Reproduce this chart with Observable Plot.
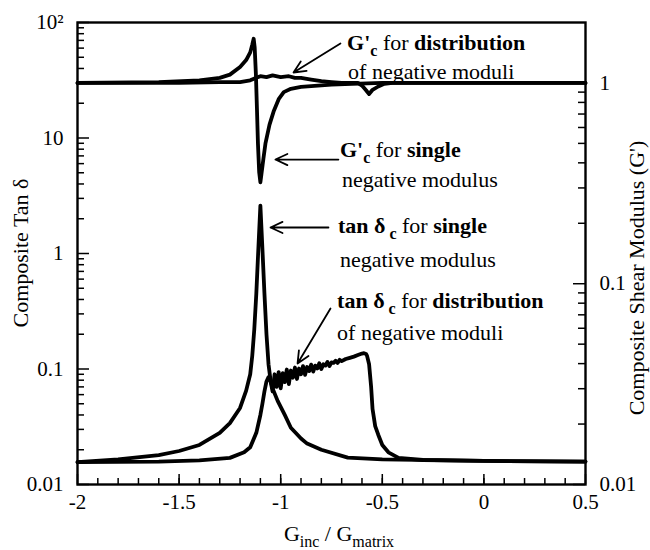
<!DOCTYPE html>
<html><head><meta charset="utf-8">
<script src="https://cdn.jsdelivr.net/npm/d3@7"></script>
<script src="https://cdn.jsdelivr.net/npm/@observablehq/plot@0.6"></script>
<style>body{margin:0;background:#fff}</style>
</head><body><div id="chart"></div>
<script>
// ---------- data ----------
// tan δc, single negative modulus (left axis)
const tanSingleX = [-2, -1.8, -1.6, -1.5, -1.4, -1.3, -1.25, -1.2, -1.17, -1.15, -1.14, -1.13, -1.12, -1.11, -1.10, -1.09, -1.08, -1.07, -1.06, -1.05, -1.04, -1.015, -0.98, -0.95, -0.9, -0.87, -0.8, -0.67, -0.5, 0, 0.5];
const tanSingleY = [0.0156, 0.0165, 0.018, 0.0195, 0.022, 0.028, 0.034, 0.046, 0.065, 0.09, 0.13, 0.22, 0.45, 1.1, 2.6, 1.1, 0.45, 0.2, 0.11, 0.08, 0.068, 0.053, 0.04, 0.031, 0.025, 0.0226, 0.02, 0.0171, 0.0165, 0.016, 0.0158];
// tan δc, distribution of negative moduli (left axis)
const tanDistX = [-2, -1.6, -1.4, -1.25, -1.18, -1.15, -1.12, -1.10, -1.09, -1.08, -1.07, -1.06,
  -1.05, -1.04, -1.03, -1.02, -1.01, -1.00, -0.99, -0.98, -0.97, -0.96, -0.95, -0.94, -0.93, -0.92, -0.91, -0.90,
  -0.89, -0.88, -0.87, -0.86, -0.85, -0.84, -0.83, -0.82, -0.81, -0.80, -0.79, -0.78, -0.77, -0.76, -0.75, -0.74,
  -0.73, -0.72, -0.71, -0.70, -0.68, -0.66, -0.64, -0.62, -0.60, -0.59, -0.58, -0.575, -0.565, -0.555, -0.548,
  -0.535, -0.52, -0.50, -0.47, -0.42, -0.3, 0, 0.5];
const tanDistY = [0.0156, 0.0158, 0.0162, 0.017, 0.019, 0.021, 0.028, 0.04, 0.05, 0.064, 0.078, 0.085,
  0.078, 0.064, 0.09, 0.07, 0.094, 0.068, 0.092, 0.077, 0.099, 0.074, 0.097, 0.084, 0.103, 0.082, 0.101, 0.09,
  0.106, 0.089, 0.104, 0.096, 0.109, 0.095, 0.107, 0.101, 0.112, 0.1, 0.11, 0.107, 0.115, 0.106, 0.114, 0.113,
  0.118, 0.113, 0.12, 0.117, 0.122, 0.125, 0.128, 0.132, 0.136, 0.137, 0.135, 0.13, 0.11, 0.07, 0.045,
  0.032, 0.027, 0.022, 0.019, 0.017, 0.0163, 0.016, 0.0158];
// G'c, single negative modulus (right axis)
const gSingleX = [-2, -1.6, -1.4, -1.3, -1.25, -1.2, -1.17, -1.15, -1.14, -1.133, -1.128, -1.122, -1.117, -1.112, -1.106, -1.10, -1.095, -1.085, -1.075, -1.055, -1.035, -1.01, -0.985, -0.95, -0.9, -0.85, -0.75, -0.65, -0.5, 0, 0.5];
const gSingleY = [1.0, 1.01, 1.03, 1.06, 1.1, 1.2, 1.3, 1.42, 1.55, 1.66, 1.5, 1.1, 0.75, 0.5, 0.36, 0.32, 0.35, 0.42, 0.5, 0.62, 0.72, 0.83, 0.9, 0.935, 0.955, 0.965, 0.98, 0.99, 1.0, 1.0, 1.0];
// G'c, distribution of negative moduli (right axis)
const gDistX = [-2, -1.5, -1.3, -1.2, -1.15, -1.12, -1.1, -1.07, -1.04, -1.0, -0.96, -0.93, -0.9, -0.85, -0.8, -0.75, -0.7, -0.62, -0.6, -0.58, -0.565, -0.55, -0.52, -0.49, -0.45, 0, 0.5];
const gDistY = [1.0, 1.0, 1.01, 1.01, 1.03, 1.06, 1.08, 1.07, 1.09, 1.07, 1.08, 1.06, 1.06, 1.04, 1.02, 1.01, 1.0, 1.0, 0.97, 0.92, 0.88, 0.92, 0.96, 0.99, 1.0, 1.0, 1.0];

// ticks & labels
const xMajor = [-2, -1.5, -1, -0.5, 0, 0.5];
const xLabels = ["-2", "-1.5", "-1", "-0.5", "0", "0.5"];
const xMinor = d3.range(-19, 5).map(k => k / 10);
const leftMajor = [0.01, 0.1, 1, 10, 100];
const leftLabels = ["0.01", "0.1", "1", "10", "10\u00B2"];
const leftMinor = [0.01, 0.1, 1, 10].flatMap(b => d3.range(2, 10).map(m => m * b));
const rightMajor = [0.01, 0.1, 1];
const rightLabels = ["0.01", "0.1", "1"];
const rightMinor = [0.01, 0.1].flatMap(b => d3.range(2, 10).map(m => m * b));

// ---------- layout ----------
const W = 650, H = 550, mL = 77, mR = 65, mT = 22, mB = 66;
const frameW = W - mL - mR, frameH = H - mT - mB;
const RIGHT_MAX = 2;
const LEFT_DEC = 4, RIGHT_DEC = Math.log10(RIGHT_MAX) + 2;
const toLeft = g => 10 ** ((Math.log10(g) + 2) * LEFT_DEC / RIGHT_DEC - 2);
const FONT = "'Liberation Serif', 'Times New Roman', Times, 'DejaVu Serif', serif";

const series = [
  {name: "gDist", x: gDistX, y: gDistY, right: true},
  {name: "gSingle", x: gSingleX, y: gSingleY, right: true},
  {name: "tanDist", x: tanDistX, y: tanDistY, right: false},
  {name: "tanSingle", x: tanSingleX, y: tanSingleY, right: false}
];
const rows = series.flatMap(s => s.x.map((x, i) => ({series: s.name, x, y: s.right ? toLeft(s.y[i]) : s.y[i]})));

const leftTickRows = leftMajor.map((v, i) => ({y: v, label: leftLabels[i]}));
const rightTickRows = rightMajor.map((v, i) => ({y: toLeft(v), label: rightLabels[i]}));
const xTickRows = xMajor.map((v, i) => ({x: v, label: xLabels[i]}));

// annotation arrows (data coords)
const arrows = [
  {x1: -0.706, y1: 65.8, x2: -0.937, y2: 36.9},
  {x1: -0.716, y1: 6.51, x2: -1.026, y2: 6.51},
  {x1: -0.765, y1: 1.68, x2: -1.050, y2: 1.68},
  {x1: -0.755, y1: 0.334, x2: -0.917, y2: 0.1117}
];

const plot = Plot.plot({
  width: W, height: H, marginLeft: mL, marginRight: mR, marginTop: mT, marginBottom: mB,
  x: {domain: [-2, 0.5], axis: null},
  y: {type: "log", domain: [0.01, 100], axis: null},
  style: {fontFamily: FONT, fontSize: "21px", color: "black", background: "white"},
  marks: [
    Plot.line(rows, {x: "x", y: "y", z: "series", stroke: "black", strokeWidth: 3.8, strokeLinejoin: "round", strokeLinecap: "round"}),
    Plot.tickX(xMinor, {x: d => d, insetTop: frameH - 6, strokeWidth: 1.5}),
    Plot.tickX(xMajor, {x: d => d, insetTop: frameH - 10, strokeWidth: 1.5}),
    Plot.tickY(leftMinor, {y: d => d, insetRight: frameW - 7, strokeWidth: 1.5}),
    Plot.tickY(leftMajor, {y: d => d, insetRight: frameW - 12, strokeWidth: 1.5}),
    Plot.tickY(rightMinor.map(toLeft), {y: d => d, insetLeft: frameW - 7, strokeWidth: 1.5}),
    Plot.tickY(rightTickRows, {y: "y", insetLeft: frameW - 12, strokeWidth: 1.5}),
    Plot.text(xTickRows, {x: "x", text: "label", frameAnchor: "bottom", lineAnchor: "top", dy: 10, fontSize: 21}),
    Plot.text(leftTickRows, {y: "y", text: "label", frameAnchor: "left", textAnchor: "end", dx: -14, fontSize: 21}),
    Plot.text(rightTickRows, {y: "y", text: "label", frameAnchor: "right", textAnchor: "start", dx: 14, fontSize: 21}),
    Plot.frame({strokeWidth: 2.4}),
    Plot.arrow(arrows, {x1: "x1", y1: "y1", x2: "x2", y2: "y2", strokeWidth: 1.8, headLength: 11, headAngle: 50})
  ]
});
document.getElementById("chart").appendChild(plot);

// ---------- rich text (annotations, titles) ----------
const svg = d3.select(plot);
const sx = plot.scale("x"), sy = plot.scale("y");
const FS = 22, SUB = 16;
function rich(g, x, y, spans, attrs = {}) {
  const t = g.append("text").attr("x", x).attr("y", y)
    .attr("text-anchor", "start")
    .style("font-family", FONT).style("font-size", FS + "px").attr("fill", "black");
  for (const [k, v] of Object.entries(attrs)) t.attr(k, v);
  let shifted = 0;
  for (const s of spans) {
    const ts = t.append("tspan").text(s.t);
    ts.attr("font-weight", s.b ? "bold" : "normal");
    const want = s.sub ? 6 : 0;
    if (want !== shifted) { ts.attr("dy", want - shifted); shifted = want; }
    if (s.sub) ts.style("font-size", SUB + "px");
    if (s.dx) ts.attr("dx", s.dx);
  }
  return t;
}
const notes = [
  {x: -0.671, y: 57.2, spans: [{t: "G'", b: true}, {t: "c", b: true, sub: true}, {t: " for "}, {t: "distribution", b: true}]},
  {x: -0.666, y: 32.1, spans: [{t: "of negative moduli"}]},
  {x: -0.706, y: 6.78, spans: [{t: "G'", b: true}, {t: "c", b: true, sub: true}, {t: " for "}, {t: "single", b: true}]},
  {x: -0.696, y: 3.73, spans: [{t: "negative modulus"}]},
  {x: -0.716, y: 1.49, spans: [{t: "tan \u03B4", b: true}, {t: "c", b: true, sub: true, dx: 4}, {t: " for "}, {t: "single", b: true}]},
  {x: -0.706, y: 0.757, spans: [{t: "negative modulus"}]},
  {x: -0.720, y: 0.334, spans: [{t: "tan \u03B4", b: true}, {t: "c", b: true, sub: true, dx: 4}, {t: " for "}, {t: "distribution", b: true}]},
  {x: -0.720, y: 0.177, spans: [{t: "of negative moduli"}]}
];
const ann = svg.append("g");
for (const n of notes) rich(ann, sx.apply(n.x), sy.apply(n.y), n.spans);

// axis titles
rich(svg, 0, 0, [{t: "Composite Tan \u03B4"}], {transform: `translate(28,${mT + frameH / 2}) rotate(-90)`, "text-anchor": "middle"});
rich(svg, 0, 0, [{t: "Composite Shear Modulus (G')"}], {transform: `translate(644,278) rotate(-90)`, "text-anchor": "middle"});
rich(svg, mL + frameW / 2 + 8, 541, [{t: "G"}, {t: "inc", sub: true}, {t: " / G"}, {t: "matrix", sub: true}], {"text-anchor": "middle"});
</script>
</body></html>
